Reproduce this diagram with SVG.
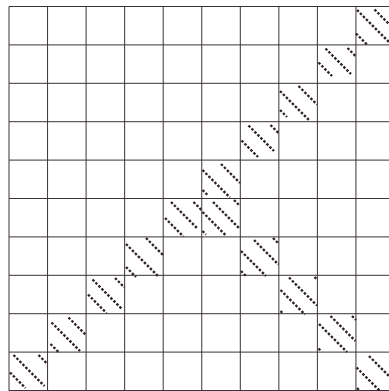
<svg xmlns="http://www.w3.org/2000/svg" width="389" height="391" viewBox="0 0 389 391">
<style>
.g{stroke:#3b3336;stroke-width:1;fill:none}
.d{stroke:#2e2226;stroke-width:2.4;stroke-dasharray:2.5 1.75;fill:none}
</style>
<rect width="389" height="391" fill="#fff"/>
<g id="grid" class="g">
<path d="M9 6.5V391M47.55 6.5V391M86.1 6.5V391M124.65 6.5V391M163.2 6.5V391M201.75 6.5V391M240.3 6.5V391M278.85 6.5V391M317.4 6.5V391M355.95 6.5V391"/>
<path d="M9 6.5H389M9 44.9H389M9 83.3H389M9 121.7H389M9 160.1H389M9 198.5H389M9 236.9H389M9 275.3H389M9 313.7H389M9 352.1H389M9 390.5H389"/>
</g>
<g id="cells" class="d">
<g id="r0c9"><path d="M374.5 9.5L389 24M357 10L389 42M356 33.5L367 44.5"/></g>
<g id="r1c8"><path d="M347.5 48L356 56.5M325.5 48.5L351 74M318.5 62.5L332 76"/></g>
<g id="r2c7"><path d="M298.5 86L317 104.5M280 91L309 120M280 110L287 117"/></g>
<g id="r3c6"><path d="M270.5 125L278.5 133M248.5 125.5L274 151M241.5 140.5L258 157"/></g>
<g id="r4c5"><path d="M221 164L240 183M202.5 170L230 197.5M202.5 190L208.5 196"/></g>
<g id="r5c4"><path d="M193.5 202L201.5 210M171 202L197 228M165 218L183.5 236.5"/></g>
<g id="r5c5"><path d="M234 200L240 206M213 202L239 228M202.5 212L226.5 236M202.5 231L206 234.5"/></g>
<g id="r6c3"><path d="M146 238L163 255M126 244L158 276M126 267L136 277"/></g>
<g id="r6c6"><path d="M273 238L278.5 243.5M254 240L278.5 264.5M241 251L266 276M241 271L246 276"/></g>
<g id="r7c2"><path d="M115 278L124.5 287.5M92.5 279.5L122.5 309.5M88 294.5L106.5 313"/></g>
<g id="r7c7"><path d="M314.5 277L317 279.5M289 277.5L317 305.5M280.5 290L305 314.5M280.5 311L283 313.5"/></g>
<g id="r8c1"><path d="M68.5 317.5L86 335M51.5 322.5L80 351M50.5 344L59 352.5"/></g>
<g id="r8c8"><path d="M352 316L356 320M330.5 316L355.5 341M319 324L347 352M318.5 348.5L321 351"/></g>
<g id="r9c0"><path d="M38.5 355L47 363.5M13.5 355L44.5 386M10 372.5L25.5 388"/></g>
<g id="r9c9"><path d="M369 356L389 376M356.5 367.5L380 391M357 388L359 390"/></g>
</g>
</svg>
